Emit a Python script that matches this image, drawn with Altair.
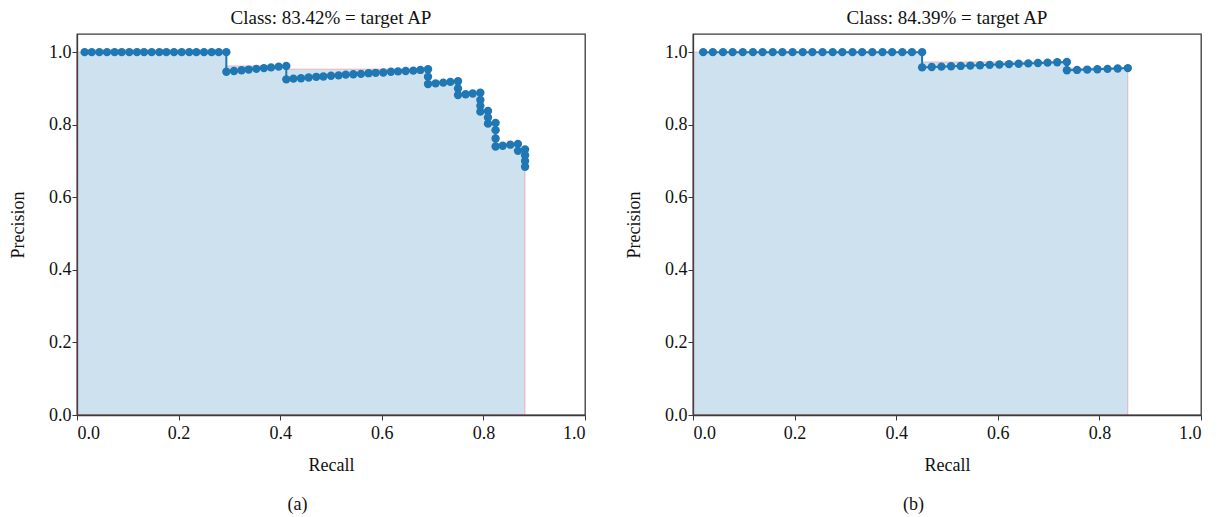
import altair as alt
import pandas as pd
import numpy as np

# ---- data ----
rec_a = [0.015, 0.029, 0.044, 0.059, 0.074, 0.088, 0.103, 0.118, 0.132, 0.147,
         0.162, 0.176, 0.191, 0.206, 0.221, 0.235, 0.250, 0.265, 0.279, 0.294,
         0.294, 0.309, 0.324, 0.338, 0.353, 0.368, 0.382, 0.397, 0.412,
         0.412, 0.426, 0.441, 0.456, 0.471, 0.485, 0.500, 0.515, 0.529, 0.544,
         0.559, 0.574, 0.588, 0.603, 0.618, 0.632, 0.647, 0.662, 0.676, 0.691,
         0.691, 0.691, 0.706, 0.721, 0.735, 0.750,
         0.750, 0.750, 0.765, 0.779, 0.794,
         0.794, 0.794, 0.794, 0.809, 0.809, 0.809,
         0.824, 0.824, 0.824, 0.824, 0.838, 0.853, 0.868, 0.868,
         0.882, 0.882, 0.882, 0.882]
prec_a = [1.0, 1.0, 1.0, 1.0, 1.0, 1.0, 1.0, 1.0, 1.0, 1.0,
          1.0, 1.0, 1.0, 1.0, 1.0, 1.0, 1.0, 1.0, 1.0, 1.0,
          0.946, 0.948, 0.950, 0.952, 0.954, 0.956, 0.958, 0.960, 0.962,
          0.925, 0.927, 0.928, 0.930, 0.932, 0.933, 0.935, 0.936, 0.938, 0.939,
          0.940, 0.942, 0.943, 0.944, 0.946, 0.947, 0.948, 0.949, 0.951, 0.953,
          0.932, 0.912, 0.914, 0.916, 0.918, 0.920,
          0.900, 0.882, 0.884, 0.886, 0.888,
          0.868, 0.852, 0.836, 0.838, 0.820, 0.803,
          0.805, 0.785, 0.762, 0.740, 0.742, 0.745, 0.747, 0.728,
          0.732, 0.716, 0.700, 0.684]

rec_b = [0.020, 0.039, 0.059, 0.078, 0.098, 0.118, 0.137, 0.157, 0.176, 0.196,
         0.216, 0.235, 0.255, 0.275, 0.294, 0.314, 0.333, 0.353, 0.373, 0.392,
         0.412, 0.431, 0.451,
         0.451, 0.470, 0.489, 0.508, 0.527, 0.546, 0.565, 0.584, 0.603, 0.622,
         0.641, 0.660, 0.679, 0.698, 0.717, 0.736,
         0.736, 0.756, 0.776, 0.796, 0.816, 0.836, 0.856]
prec_b = [1.0, 1.0, 1.0, 1.0, 1.0, 1.0, 1.0, 1.0, 1.0, 1.0,
          1.0, 1.0, 1.0, 1.0, 1.0, 1.0, 1.0, 1.0, 1.0, 1.0,
          1.0, 1.0, 1.0,
          0.958, 0.959, 0.960, 0.961, 0.962, 0.963, 0.964, 0.965, 0.966, 0.967,
          0.968, 0.969, 0.970, 0.971, 0.972, 0.973,
          0.950, 0.951, 0.952, 0.953, 0.954, 0.955, 0.956]

titles = ["Class: 83.42% = target AP", "Class: 84.39% = target AP"]
captions = ["(a)", "(b)"]
x_ticks = [0.0, 0.2, 0.4, 0.6, 0.8, 1.0]
y_ticks = [0.0, 0.2, 0.4, 0.6, 0.8, 1.0]

FONT = "Liberation Serif"
BLUE = "#1f77b4"
SPINE = "#3a3a3a"


def panel(rec, prec, title, caption):
    n = len(rec)
    pts = pd.DataFrame({"recall": rec, "precision": prec, "i": list(range(n))})
    # interpolated (monotone) precision, as filled under the curve
    env = np.maximum.accumulate(np.array(prec)[::-1])[::-1]
    ax_, ay_ = [0.0], [float(env[0])]
    for j in range(n):
        if j == n - 1 or rec[j + 1] != rec[j]:
            ax_.append(rec[j])
            ay_.append(float(env[j]))
    area = pd.DataFrame({"recall": ax_, "precision": ay_})

    x = alt.X("recall:Q",
              scale=alt.Scale(domain=[0, 1], nice=False, zero=False),
              axis=alt.Axis(values=x_ticks, format=".1f", title="Recall", grid=False,
                            labelPadding=4, titlePadding=14, tickSize=5))
    y = alt.Y("precision:Q", stack=None,
              scale=alt.Scale(domain=[0, 1.05], nice=False),
              axis=alt.Axis(values=y_ticks, format=".1f", title="Precision", grid=False,
                            labelPadding=1, titlePadding=21, tickSize=5))

    a = alt.Chart(area).mark_area(fill=BLUE, fillOpacity=0.22, stroke="red",
                                  strokeOpacity=0.2, strokeWidth=1.2,
                                  interpolate="step-after").encode(x=x, y=y)
    l = alt.Chart(pts).mark_line(color=BLUE, strokeWidth=2).encode(
        x=x, y=y, order=alt.Order("i:Q"))
    p = alt.Chart(pts).mark_circle(color=BLUE, size=70, opacity=1).encode(x=x, y=y)

    layer = alt.layer(a, l, p).properties(
        width=508, height=381,
        title=alt.TitleParams(title, frame="group", anchor="middle", fontSize=19,
                              font=FONT, fontWeight="normal", color="#111", offset=6))
    return alt.vconcat(layer, title=alt.TitleParams(
        caption, orient="bottom", anchor="middle", frame="bounds", fontSize=18,
        font=FONT, fontWeight="normal", color="#111", offset=21))


chart = alt.hconcat(
    panel(rec_a, prec_a, titles[0], captions[0]),
    panel(rec_b, prec_b, titles[1], captions[1]),
    spacing=37,
).properties(
    padding={"left": 0, "top": 0, "right": 0, "bottom": 0}
).configure_view(
    stroke=SPINE, strokeWidth=1.3
).configure_axis(
    labelFont=FONT, titleFont=FONT, labelFontSize=18, titleFontSize=18,
    labelColor="#111", titleColor="#111", titleFontWeight="normal",
    domainColor=SPINE, tickColor=SPINE, domainWidth=1.3, tickWidth=1
)

chart.save("out.html", embed_options={"renderer": "svg", "actions": False})
